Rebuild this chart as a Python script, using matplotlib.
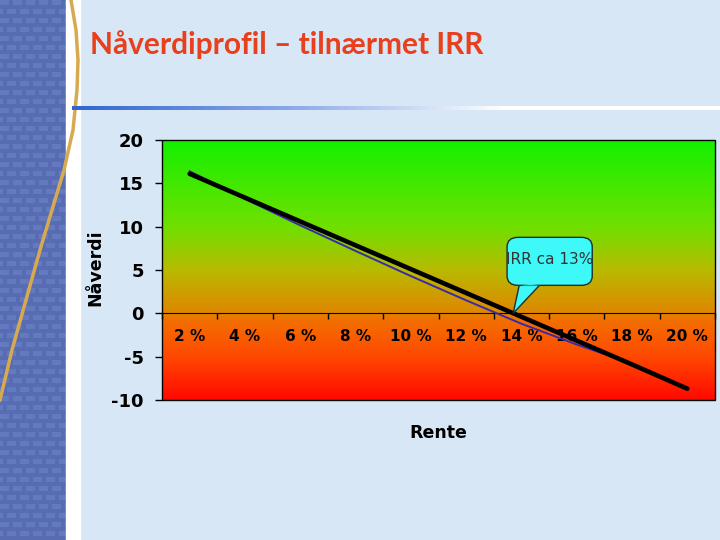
import numpy as np
import matplotlib
matplotlib.use("Agg")
import matplotlib.pyplot as plt
from matplotlib.colors import LinearSegmentedColormap
from matplotlib.patches import Rectangle, FancyBboxPatch, Polygon

plt.rcParams["axes.unicode_minus"] = False

# data
rente = ["2 %", "4 %", "6 %", "8 %", "10 %", "12 %", "14 %", "16 %", "18 %", "20 %"]
naaverdi = [16.4, 13.2, 10.15, 7.2, 4.3, 1.5, -1.2, -3.6, -5.8]
tilnaermet = [16.1, 13.35, 10.6, 7.85, 5.1, 2.35, -0.4, -3.15, -5.9, -8.7]
irr_tekst = "IRR ca 13%"
irr_pos = 5.85  # where the callout points, in category units

fig = plt.figure(figsize=(7.2, 5.4), dpi=100)

# slide background
bg = fig.add_axes([0, 0, 1, 1])
bg.set_xlim(0, 720)
bg.set_ylim(540, 0)
bg.axis("off")
bg.add_patch(Rectangle((0, 0), 720, 540, color="#d8e7f6", zorder=0))

# blue "building" strip on the left
h, w = 540, 66
yy, xx = np.mgrid[0:h, 0:w]
strip = np.zeros((h, w, 3))
strip[:] = (88 / 255, 108 / 255, 178 / 255)
win = ((yy % 9) < 5) & (((xx + (yy // 9 % 2) * 6) % 13) < 9)
strip[win] = (100 / 255, 122 / 255, 192 / 255)
bg.imshow(strip, extent=(0, 66, 540, 0), aspect="auto", zorder=1)
bg.add_patch(Rectangle((66, 0), 14, 540, color="white", zorder=1))
gx = [71, 76, 78, 77, 73, 64, 52, 40, 26, 12, 0]
gy = [0, 30, 60, 90, 130, 170, 210, 250, 300, 350, 400]
bg.plot(gx, gy, color="#d8aa50", lw=2.5, zorder=2)

# gradient line under the title
grad = np.linspace(0, 1, 300)
line_cmap = LinearSegmentedColormap.from_list("ul", ["#2f66d0", "#8aa8e8", "#ffffff", "#ffffff"])
bg.imshow(grad[None, :], cmap=line_cmap, extent=(72, 720, 110, 106), aspect="auto", zorder=2)

fig.text(90 / 720, 1 - 54 / 540, "Nåverdiprofil – tilnærmet IRR", color="#e8401c",
         fontsize=21.5, fontfamily="Lato", fontweight="bold", va="baseline", ha="left")

# chart
ax = fig.add_axes([162 / 720, 1 - 400 / 540, 553 / 720, 260 / 540])
ax.set_xlim(-0.5, len(rente) - 0.5)
ax.set_ylim(-10, 20)

stops = [(0.0, "#ff0800"), (0.17, "#ff4a00"), (0.31, "#f27000"), (0.333, "#e08600"),
         (0.5, "#b8ba00"), (0.667, "#70e000"), (1.0, "#14f000")]
grad_cmap = LinearSegmentedColormap.from_list("bgplot", stops)
ax.imshow(np.linspace(1, 0, 256)[:, None], cmap=grad_cmap, aspect="auto",
          extent=(-0.5, len(rente) - 0.5, -10, 20), zorder=0)

x = np.arange(len(rente))
ax.plot(x[:len(naaverdi)], naaverdi, color="#3a2aa8", lw=1.4, zorder=3)
ax.plot(x, tilnaermet, color="black", lw=3.3, solid_capstyle="round", zorder=4)

for s in ["top", "right", "left"]:
    ax.spines[s].set_visible(False)
ax.spines["bottom"].set_position(("data", 0))
ax.add_patch(Rectangle((0, 0), 1, 1, transform=ax.transAxes, fill=False,
                       ec="black", lw=1, zorder=5, clip_on=False))

ax.set_xticks(np.arange(len(rente) + 1) - 0.5)
ax.set_xticklabels([])
ax.set_xticks(x, minor=True)
ax.set_xticklabels(rente, minor=True)
ax.tick_params(axis="x", which="major", direction="out", length=4, width=1)
ax.tick_params(axis="x", which="minor", length=0, pad=11, labelsize=11)
for t in ax.get_xticklabels(minor=True):
    t.set_fontweight("bold")

ax.set_yticks([-10, -5, 0, 5, 10, 15, 20])
ax.tick_params(axis="y", direction="out", length=5, width=1, pad=8, labelsize=13)
for t in ax.get_yticklabels():
    t.set_fontweight("bold")

ax.text(-0.121, 0.508, "Nåverdi", transform=ax.transAxes, rotation=90,
        ha="center", va="center", fontsize=12.5, fontweight="bold")
ax.text(0.499, -0.127, "Rente", transform=ax.transAxes, ha="center", va="center",
        fontsize=12.5, fontweight="bold")

# callout: rounded box with a pointer to the zero crossing
bx0, bx1, by0, by1 = 5.74, 7.28, 3.23, 8.77
ax.add_patch(Polygon([(5.97, by0 + 0.3), (6.37, by0 + 0.3), (irr_pos, 0)], closed=True,
                     fc="#3ff8f8", ec="#1a3030", lw=1, zorder=6))
ax.add_patch(FancyBboxPatch((bx0, by0), bx1 - bx0, by1 - by0,
                            boxstyle="round,pad=0,rounding_size=0.2", mutation_aspect=5.5,
                            fc="#3ff8f8", ec="#1a3030", lw=1, zorder=6))
ax.add_patch(Polygon([(5.985, by0 + 0.35), (6.355, by0 + 0.35), (5.99, by0 - 0.02), (6.33, by0 - 0.02)],
                     closed=True, fc="#3ff8f8", ec="none", zorder=7))
ax.text((bx0 + bx1) / 2, (by0 + by1) / 2 + 0.2, irr_tekst, ha="center", va="center",
        fontsize=11, color="#333333", zorder=8)

fig.savefig("out.png", dpi=100)
